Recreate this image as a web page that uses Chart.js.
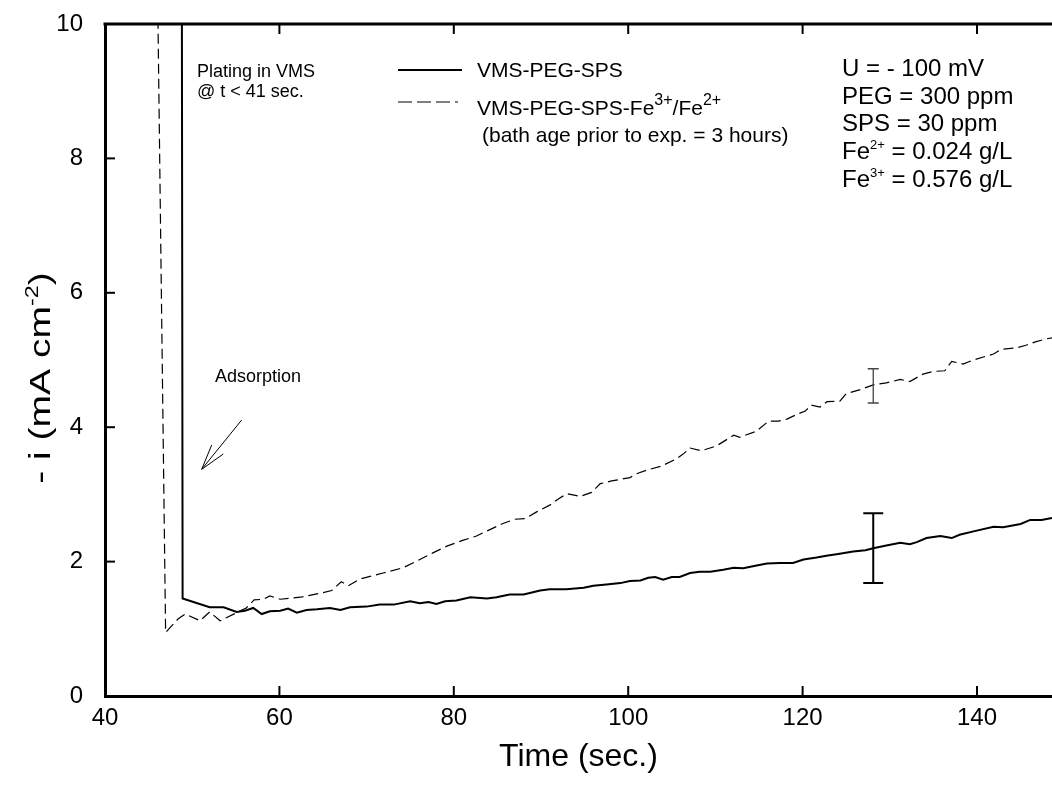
<!DOCTYPE html>
<html><head><meta charset="utf-8">
<script src="https://cdn.jsdelivr.net/npm/chart.js@4.4.0/dist/chart.umd.min.js"></script>
<style>html,body{margin:0;padding:0;background:#fff;}#wrap{width:1052px;height:789px;}</style>
</head><body><div id="wrap"><canvas id="c" width="1052" height="789"></canvas></div>
<script>
const FONT = '"Liberation Sans", Arial, sans-serif';
const AXFONT = '"Liberation Sans", Arial, sans-serif';

const solidTime = [48.8,48.9,52.0,53.6,55.1,56.05,57.0,57.97,58.9,60.1,61.0,62.0,63.1,64.3,65.8,67.0,68.1,70.0,71.5,73.1,75.0,76.1,77.1,78.0,79.0,80.3,81.9,83.8,84.9,86.4,88.0,89.9,91.0,92.9,94.9,96.0,97.5,99.1,100.2,101.4,102.3,103.1,104.0,105.0,105.9,107.1,108.2,109.4,110.9,112.1,113.2,114.3,115.9,117.4,118.9,120.1,121.6,122.9,123.9,125.8,127.2,128.1,129.6,131.2,132.3,133.1,134.2,135.8,137.1,138.0,139.6,141.9,143.0,145.0,146.1,147.4,148.6];
const solidCurrent = [12,1.45,1.32,1.32,1.25,1.27,1.31,1.22,1.26,1.27,1.30,1.24,1.28,1.29,1.31,1.28,1.32,1.33,1.36,1.36,1.41,1.38,1.40,1.37,1.41,1.42,1.47,1.45,1.47,1.51,1.51,1.57,1.59,1.59,1.61,1.64,1.66,1.68,1.71,1.72,1.76,1.77,1.73,1.77,1.77,1.83,1.85,1.85,1.88,1.91,1.90,1.93,1.97,1.98,1.98,2.03,2.06,2.09,2.11,2.15,2.17,2.20,2.24,2.28,2.26,2.29,2.35,2.38,2.35,2.40,2.45,2.52,2.51,2.56,2.62,2.62,2.65];

const dashedTime = [46.05,46.95,48.4,49.2,50.9,52.0,53.2,55.1,56.2,57.1,58.2,58.9,60.1,62.4,64.7,66.0,67.1,67.9,69.2,70.4,71.9,74.2,76.1,77.6,79.2,81.1,82.6,84.2,85.7,87.0,88.2,89.5,91.0,92.2,93.0,94.5,95.8,96.8,98.1,100.2,100.8,102.1,103.8,105.4,106.3,107.1,108.4,110.1,112.1,112.8,114.7,116.1,117.2,118.2,119.5,120.3,121.0,122.0,122.8,124.3,125.0,126.6,128.1,129.6,131.2,132.3,133.8,135.0,136.3,137.1,138.4,139.6,141.9,142.8,144.5,145.6,146.7,147.8,148.6];
const dashedCurrent = [10.3,0.945,1.15,1.22,1.12,1.25,1.12,1.24,1.31,1.43,1.44,1.49,1.44,1.47,1.53,1.57,1.70,1.64,1.74,1.78,1.83,1.91,2.03,2.13,2.23,2.32,2.38,2.48,2.57,2.63,2.64,2.74,2.84,2.95,3.01,2.97,3.03,3.16,3.20,3.25,3.30,3.36,3.42,3.52,3.60,3.69,3.65,3.72,3.88,3.85,3.94,4.09,4.09,4.12,4.20,4.24,4.33,4.30,4.38,4.39,4.50,4.56,4.63,4.66,4.71,4.68,4.79,4.83,4.84,4.98,4.94,5.00,5.09,5.16,5.18,5.22,5.27,5.31,5.33];

const xTickValues = [40,60,80,100,120,140];
const yTickValues = [0,2,4,6,8,10];

// error bars: [solid, dashed]
const errTime = [128.1, 128.1];
const errLow = [1.68, 4.36];
const errHigh = [2.72, 4.87];

const seriesNames = ['VMS-PEG-SPS', 'VMS-PEG-SPS-Fe'];

function pairs(xs, ys){ const n=Math.min(xs.length, ys.length); const out=[]; for(let i=0;i<n;i++) out.push({x:xs[i], y:ys[i]}); return out; }

function supText(ctx, parts, x, y, size, supSize, supRise, fam){
  let cx = x;
  for (const [t, sup] of parts){
    ctx.font = (sup ? supSize : size) + 'px ' + (fam || FONT);
    ctx.fillText(t, cx, sup ? y - supRise : y);
    cx += ctx.measureText(t).width;
  }
  return cx;
}

const decor = {
  id: 'decor',
  afterDraw(chart){
    const ctx = chart.ctx, a = chart.chartArea;
    const xs = chart.scales.x, ys = chart.scales.y;
    ctx.save();
    ctx.strokeStyle = '#000'; ctx.fillStyle = '#000';
    // top frame
    ctx.lineWidth = 3;
    ctx.beginPath(); ctx.moveTo(a.left-1.5, a.top); ctx.lineTo(a.right, a.top); ctx.stroke();
    // inner ticks
    ctx.lineWidth = 2;
    for (const t of xs.ticks){
      const px = xs.getPixelForValue(t.value);
      ctx.beginPath(); ctx.moveTo(px, a.bottom); ctx.lineTo(px, a.bottom-10); ctx.stroke();
      ctx.beginPath(); ctx.moveTo(px, a.top); ctx.lineTo(px, a.top+10); ctx.stroke();
    }
    for (const t of ys.ticks){
      const py = ys.getPixelForValue(t.value);
      ctx.beginPath(); ctx.moveTo(a.left, py); ctx.lineTo(a.left+10, py); ctx.stroke();
    }
    // error bars
    const errStyle = [{w:2, c:'#000', cap:10}, {w:1.3, c:'#444', cap:5.5}];
    for (let i=0;i<errTime.length;i++){
      const s = errStyle[i];
      const px = xs.getPixelForValue(errTime[i]);
      const p1 = ys.getPixelForValue(errLow[i]), p2 = ys.getPixelForValue(errHigh[i]);
      ctx.strokeStyle = s.c; ctx.lineWidth = s.w;
      ctx.beginPath();
      ctx.moveTo(px, p1); ctx.lineTo(px, p2);
      ctx.moveTo(px-s.cap, p1); ctx.lineTo(px+s.cap, p1);
      ctx.moveTo(px-s.cap, p2); ctx.lineTo(px+s.cap, p2);
      ctx.stroke();
    }
    ctx.strokeStyle = '#000';
    // y axis title with superscript (drawn slightly elongated like the reference)
    ctx.save();
    ctx.translate(50, 378);
    ctx.rotate(-Math.PI/2);
    ctx.scale(1.3, 1);
    ctx.textBaseline = 'alphabetic';
    const titleParts = [['- i (mA cm', false], ['-2', true], [')', false]];
    let w = 0;
    for (const [t, sup] of titleParts){ ctx.font = (sup?18:30)+'px '+FONT; w += ctx.measureText(t).width; }
    supText(ctx, titleParts, -w/2, 0, 30, 18, 12);
    ctx.restore();

    ctx.textAlign = 'left'; ctx.textBaseline = 'alphabetic';
    // Plating annotation
    ctx.font = '18px ' + FONT;
    ctx.fillText('Plating in VMS', 197, 77);
    ctx.fillText('@ t < 41 sec.', 197, 97);
    // Adsorption + arrow
    ctx.fillText('Adsorption', 215, 382);
    ctx.lineWidth = 1;
    ctx.beginPath();
    ctx.moveTo(241.7, 420); ctx.lineTo(201.7, 469.3);
    ctx.moveTo(211.7, 445); ctx.lineTo(201.7, 469.3); ctx.lineTo(223.3, 454);
    ctx.stroke();

    // legend
    ctx.lineWidth = 2;
    ctx.beginPath(); ctx.moveTo(398, 70); ctx.lineTo(462, 70); ctx.stroke();
    ctx.lineWidth = 1.1; ctx.setLineDash([14,5]);
    ctx.beginPath(); ctx.moveTo(398, 102); ctx.lineTo(458, 102); ctx.stroke();
    ctx.setLineDash([]);
    ctx.font = '21px ' + FONT;
    ctx.fillText(seriesNames[0], 477, 77);
    supText(ctx, [[seriesNames[1], false], ['3+', true], ['/Fe', false], ['2+', true]], 477, 115, 21, 16, 10);
    ctx.font = '21px ' + FONT;
    ctx.fillText('(bath age prior to exp. = 3 hours)', 482, 142);

    // info box
    ctx.font = '24px ' + FONT;
    ctx.fillText('U = - 100 mV', 842, 76);
    ctx.fillText('PEG = 300 ppm', 842, 103.5);
    ctx.fillText('SPS = 30 ppm', 842, 131);
    supText(ctx, [['Fe', false], ['2+', true], [' = 0.024 g/L', false]], 842, 159, 24, 13, 10);
    supText(ctx, [['Fe', false], ['3+', true], [' = 0.576 g/L', false]], 842, 186.5, 24, 13, 10);
    ctx.restore();
  }
};

new Chart(document.getElementById('c'), {
  type: 'line',
  data: {
    datasets: [
      { label: seriesNames[0], data: pairs(solidTime, solidCurrent), borderColor:'#000', borderWidth:2, pointRadius:0, tension:0, fill:false },
      { label: seriesNames[1], data: pairs(dashedTime, dashedCurrent), borderColor:'#000', borderWidth:1.2, borderDash:[10,5], pointRadius:0, tension:0, fill:false }
    ]
  },
  options: {
    responsive: false, animation: false, devicePixelRatio: 1,
    layout: { padding: { top: 24, right: 0, left: 0, bottom: 0 } },
    plugins: { legend: { display:false }, tooltip: { enabled:false } },
    scales: {
      x: {
        type: 'linear', min: 40, max: 148.6, position: 'bottom',
        grid: { display:false, drawTicks:false },
        border: { display:true, width:3, color:'#000' },
        afterBuildTicks: s => { s.ticks = xTickValues.map(v => ({value:v})); },
        afterFit: s => { s.height = 93; s.paddingLeft = 0; s.paddingRight = 0; },
        ticks: { color:'#000', font:{ family:AXFONT, size:24 }, padding:8, maxRotation:0, autoSkip:false },
        title: { display:true, text:'Time (sec.)', color:'#000', font:{ family:AXFONT, size:32 }, padding:{ top:0, bottom:13 } }
      },
      y: {
        type: 'linear', min: 0, max: 10,
        grid: { display:false, drawTicks:false },
        border: { display:true, width:3, color:'#000' },
        afterBuildTicks: s => { s.ticks = yTickValues.map(v => ({value:v})); },
        afterFit: s => { s.width = 105; s.paddingTop = 0; s.paddingBottom = 0; },
        ticks: { color:'#000', font:{ family:AXFONT, size:24 }, padding:22 }
      }
    }
  },
  plugins: [decor]
});
</script></body></html>
